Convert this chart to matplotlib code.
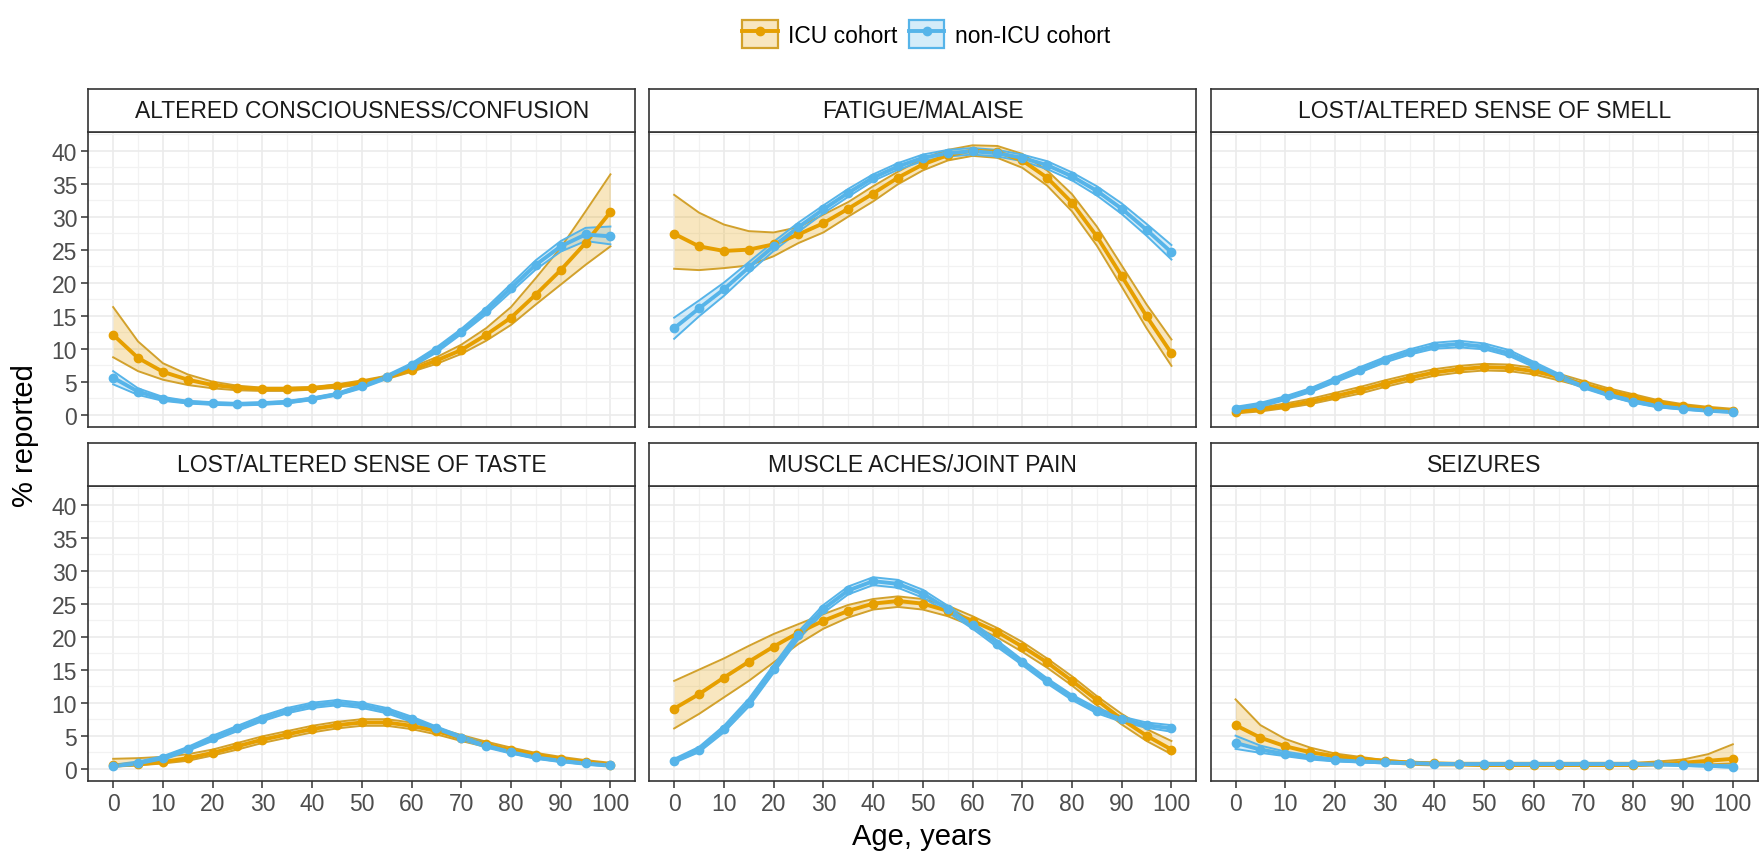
import matplotlib.pyplot as plt
from matplotlib.patches import Patch
from matplotlib.lines import Line2D
from matplotlib.colors import to_rgba

plt.rcParams['font.family'] = ['Liberation Sans', 'DejaVu Sans']

# ages every 5 years
age = list(range(0, 101, 5))

# ALTERED CONSCIOUSNESS/CONFUSION
conf_icu    = [12.1, 8.6, 6.5, 5.3, 4.5, 4.1, 3.9, 3.9, 4.0, 4.4, 4.9, 5.7, 6.8, 8.2, 9.8, 12.1, 14.7, 18.2, 21.9, 26.0, 30.7]
conf_icu_hi = [16.3, 11.1, 7.8, 6.1, 5.0, 4.4, 4.1, 4.1, 4.2, 4.6, 5.2, 5.9, 7.2, 8.7, 10.6, 13.1, 16.3, 20.7, 25.3, 30.8, 36.4]
conf_icu_lo = [8.7, 6.6, 5.3, 4.5, 4.0, 3.7, 3.6, 3.6, 3.8, 4.1, 4.6, 5.4, 6.5, 7.7, 9.2, 11.2, 13.6, 16.7, 19.7, 22.7, 25.5]
conf_non    = [5.6, 3.5, 2.4, 1.9, 1.7, 1.6, 1.7, 1.9, 2.4, 3.1, 4.3, 5.7, 7.5, 9.8, 12.6, 15.7, 19.2, 22.7, 25.5, 27.3, 27.0]
conf_non_hi = [6.6, 4.0, 2.7, 2.1, 1.9, 1.8, 1.9, 2.1, 2.6, 3.3, 4.6, 6.0, 7.8, 10.2, 13.0, 16.2, 19.8, 23.4, 26.3, 28.3, 28.5]
conf_non_lo = [4.6, 3.0, 2.1, 1.7, 1.5, 1.4, 1.5, 1.7, 2.2, 2.9, 4.0, 5.4, 7.2, 9.4, 12.2, 15.2, 18.6, 22.0, 24.7, 26.3, 25.8]

# FATIGUE/MALAISE
fat_icu    = [27.4, 25.5, 24.8, 25.0, 25.8, 27.3, 29.0, 31.2, 33.5, 35.9, 37.9, 39.3, 40.0, 39.8, 38.5, 35.9, 32.1, 27.0, 21.0, 14.9, 9.3]
fat_icu_hi = [33.3, 30.6, 28.8, 27.8, 27.6, 28.4, 30.3, 32.2, 34.6, 36.8, 38.8, 40.1, 40.8, 40.7, 39.5, 37.0, 33.4, 28.5, 22.6, 16.7, 11.4]
fat_icu_lo = [22.1, 21.9, 22.2, 22.6, 24.0, 26.0, 27.6, 30.0, 32.3, 34.9, 37.0, 38.5, 39.2, 38.9, 37.4, 34.7, 30.8, 25.6, 19.4, 13.1, 7.4]
fat_non    = [13.1, 16.1, 19.0, 22.3, 25.5, 28.4, 31.1, 33.6, 35.9, 37.6, 38.9, 39.6, 39.9, 39.6, 38.9, 37.8, 36.1, 33.9, 31.2, 28.0, 24.6]
fat_non_hi = [14.7, 17.3, 20.0, 23.1, 26.2, 29.1, 31.7, 34.2, 36.4, 38.1, 39.4, 40.1, 40.4, 40.1, 39.4, 38.4, 36.7, 34.6, 32.0, 28.9, 25.7]
fat_non_lo = [11.5, 14.9, 18.0, 21.5, 24.8, 27.7, 30.5, 33.0, 35.4, 37.1, 38.4, 39.1, 39.4, 39.1, 38.4, 37.2, 35.5, 33.2, 30.4, 27.1, 23.5]

# LOST/ALTERED SENSE OF SMELL
smell_icu    = [0.4, 0.8, 1.3, 2.0, 2.8, 3.7, 4.7, 5.6, 6.4, 6.9, 7.2, 7.1, 6.6, 5.7, 4.6, 3.6, 2.7, 1.9, 1.3, 0.9, 0.6]
smell_icu_hi = [0.7, 1.1, 1.7, 2.4, 3.3, 4.2, 5.2, 6.1, 6.9, 7.4, 7.7, 7.6, 7.1, 6.2, 5.1, 4.0, 3.1, 2.2, 1.6, 1.2, 0.9]
smell_icu_lo = [0.2, 0.5, 1.0, 1.6, 2.4, 3.2, 4.2, 5.1, 5.9, 6.4, 6.7, 6.6, 6.1, 5.2, 4.2, 3.2, 2.3, 1.6, 1.0, 0.7, 0.4]
smell_non    = [0.9, 1.5, 2.5, 3.7, 5.2, 6.8, 8.3, 9.5, 10.4, 10.7, 10.3, 9.3, 7.6, 5.8, 4.3, 3.0, 2.0, 1.3, 0.9, 0.6, 0.4]
smell_non_hi = [1.2, 1.8, 2.8, 4.0, 5.6, 7.2, 8.7, 9.9, 10.9, 11.2, 10.8, 9.8, 8.0, 6.2, 4.6, 3.3, 2.2, 1.5, 1.1, 0.8, 0.6]
smell_non_lo = [0.7, 1.2, 2.2, 3.4, 4.9, 6.4, 7.9, 9.1, 10.0, 10.2, 9.9, 8.9, 7.2, 5.5, 4.0, 2.8, 1.8, 1.1, 0.8, 0.5, 0.3]

# LOST/ALTERED SENSE OF TASTE
taste_icu    = [0.5, 0.7, 1.0, 1.6, 2.4, 3.4, 4.4, 5.2, 6.0, 6.6, 7.0, 7.0, 6.5, 5.7, 4.6, 3.7, 2.8, 2.1, 1.5, 1.0, 0.6]
taste_icu_hi = [1.5, 1.6, 1.8, 2.2, 2.9, 3.9, 4.9, 5.7, 6.5, 7.1, 7.5, 7.5, 7.0, 6.2, 5.1, 4.1, 3.2, 2.4, 1.8, 1.3, 0.9]
taste_icu_lo = [0.3, 0.5, 0.8, 1.2, 2.0, 2.9, 3.9, 4.7, 5.5, 6.1, 6.5, 6.5, 6.0, 5.2, 4.2, 3.3, 2.5, 1.8, 1.2, 0.8, 0.4]
taste_non    = [0.4, 0.8, 1.6, 3.0, 4.6, 6.1, 7.6, 8.8, 9.6, 10.0, 9.6, 8.8, 7.5, 6.1, 4.7, 3.5, 2.5, 1.7, 1.2, 0.8, 0.5]
taste_non_hi = [0.6, 1.1, 1.9, 3.3, 5.0, 6.5, 8.0, 9.2, 10.0, 10.4, 10.0, 9.2, 7.9, 6.4, 5.0, 3.8, 2.7, 1.9, 1.4, 1.0, 0.7]
taste_non_lo = [0.3, 0.6, 1.3, 2.7, 4.2, 5.7, 7.2, 8.4, 9.2, 9.6, 9.2, 8.4, 7.1, 5.8, 4.4, 3.2, 2.3, 1.5, 1.0, 0.6, 0.3]

# MUSCLE ACHES/JOINT PAIN
mus_icu    = [9.1, 11.3, 13.8, 16.2, 18.5, 20.6, 22.4, 23.9, 25.0, 25.4, 25.0, 23.9, 22.4, 20.7, 18.5, 16.1, 13.3, 10.4, 7.5, 5.0, 2.9]
mus_icu_hi = [13.3, 15.0, 16.7, 18.6, 20.4, 21.9, 23.4, 24.8, 25.7, 26.1, 25.7, 24.7, 23.1, 21.3, 19.2, 16.7, 14.0, 11.0, 8.3, 6.0, 4.2]
mus_icu_lo = [6.1, 8.3, 10.8, 13.3, 16.1, 18.9, 21.2, 22.9, 24.1, 24.5, 24.1, 23.1, 21.6, 19.9, 17.7, 15.3, 12.6, 9.6, 6.7, 4.2, 2.2]
mus_non    = [1.2, 2.9, 6.0, 10.0, 15.1, 20.2, 24.2, 27.0, 28.4, 28.0, 26.5, 24.2, 21.7, 18.9, 16.1, 13.3, 10.8, 8.8, 7.5, 6.6, 6.1]
mus_non_hi = [1.5, 3.3, 6.5, 10.6, 15.7, 20.8, 24.8, 27.6, 29.0, 28.6, 27.1, 24.7, 22.2, 19.4, 16.5, 13.7, 11.2, 9.2, 7.9, 7.0, 6.6]
mus_non_lo = [0.9, 2.5, 5.5, 9.4, 14.5, 19.6, 23.6, 26.4, 27.8, 27.4, 25.9, 23.7, 21.2, 18.4, 15.7, 12.9, 10.4, 8.4, 7.1, 6.2, 5.6]

# SEIZURES
seiz_icu    = [6.6, 4.7, 3.4, 2.5, 1.9, 1.5, 1.2, 0.9, 0.8, 0.7, 0.6, 0.6, 0.6, 0.6, 0.6, 0.6, 0.6, 0.75, 0.9, 1.2, 1.5]
seiz_icu_hi = [10.5, 6.6, 4.5, 3.2, 2.3, 1.8, 1.3, 1.1, 0.9, 0.9, 0.9, 0.9, 0.9, 0.9, 0.9, 0.9, 0.9, 1.1, 1.4, 2.2, 3.7]
seiz_icu_lo = [3.9, 2.9, 2.2, 1.7, 1.3, 1.1, 0.9, 0.6, 0.5, 0.5, 0.4, 0.4, 0.4, 0.4, 0.4, 0.4, 0.4, 0.5, 0.55, 0.65, 0.8]
seiz_non    = [3.9, 2.9, 2.2, 1.7, 1.3, 1.1, 0.95, 0.85, 0.75, 0.7, 0.7, 0.7, 0.7, 0.7, 0.7, 0.7, 0.7, 0.65, 0.55, 0.45, 0.3]
seiz_non_hi = [5.0, 3.5, 2.6, 2.0, 1.5, 1.25, 1.1, 0.95, 0.85, 0.8, 0.8, 0.8, 0.8, 0.8, 0.8, 0.8, 0.8, 0.75, 0.7, 0.6, 0.5]
seiz_non_lo = [3.0, 2.4, 1.9, 1.4, 1.1, 0.95, 0.8, 0.75, 0.65, 0.6, 0.6, 0.6, 0.6, 0.6, 0.6, 0.6, 0.6, 0.55, 0.45, 0.3, 0.15]

titles = ["ALTERED CONSCIOUSNESS/CONFUSION", "FATIGUE/MALAISE", "LOST/ALTERED SENSE OF SMELL",
          "LOST/ALTERED SENSE OF TASTE", "MUSCLE ACHES/JOINT PAIN", "SEIZURES"]
panels = [
    ((conf_icu, conf_icu_lo, conf_icu_hi), (conf_non, conf_non_lo, conf_non_hi)),
    ((fat_icu, fat_icu_lo, fat_icu_hi), (fat_non, fat_non_lo, fat_non_hi)),
    ((smell_icu, smell_icu_lo, smell_icu_hi), (smell_non, smell_non_lo, smell_non_hi)),
    ((taste_icu, taste_icu_lo, taste_icu_hi), (taste_non, taste_non_lo, taste_non_hi)),
    ((mus_icu, mus_icu_lo, mus_icu_hi), (mus_non, mus_non_lo, mus_non_hi)),
    ((seiz_icu, seiz_icu_lo, seiz_icu_hi), (seiz_non, seiz_non_lo, seiz_non_hi)),
]

icu_col, icu_edge = '#E69F00', '#D2A12C'
non_col, non_edge = '#56B4E9', '#56B4E9'
line_w, mark_s, edge_w = 2.8, 6, 1.4

W, H = 1762, 854
fig = plt.figure(figsize=(W / 100, H / 100), dpi=100)

def frac(left, top, w, h):
    return [left / W, 1 - (top + h) / H, w / W, h / H]

col_left = [88.3, 649.3, 1210.7]
row_top = [132.7, 486.7]
pw, ph, sh = 547, 295.3, 42.7
border = '#333333'

for i, (icu, non) in enumerate(panels):
    r, c = i // 3, i % 3
    ax = fig.add_axes(frac(col_left[c], row_top[r], pw, ph))
    sax = fig.add_axes(frac(col_left[c], row_top[r] - sh, pw, sh))

    # ribbons first, then lines, then points (ggplot layer order)
    for (m, lo, hi), col, edge in [(icu, icu_col, icu_edge), (non, non_col, non_edge)]:
        ax.fill_between(age, lo, hi, color=col, alpha=0.25, lw=0, zorder=2)
        ax.plot(age, lo, color=edge, lw=edge_w, zorder=2.5)
        ax.plot(age, hi, color=edge, lw=edge_w, zorder=2.5)
    for (m, lo, hi), col, z in [(icu, icu_col, 3), (non, non_col, 3.1)]:
        ax.plot(age, m, color=col, lw=line_w, zorder=z)
        ax.plot(age, m, color=col, lw=0, marker='o', ms=mark_s, zorder=z + 1)

    ax.set_xlim(-5, 105)
    ax.set_ylim(-1.86, 42.86)
    ax.set_xticks(range(0, 101, 10))
    ax.set_xticks(range(5, 100, 10), minor=True)
    ax.set_yticks(range(0, 41, 5))
    ax.set_yticks([2.5 + 5 * k for k in range(9)], minor=True)
    ax.grid(which='major', color='#EBEBEB', lw=1.2)
    ax.grid(which='minor', color='#F2F2F2', lw=0.9)
    ax.set_axisbelow(True)
    for s in ax.spines.values():
        s.set_color(border)
        s.set_linewidth(1.2)
    ax.tick_params(which='major', length=5, width=1.1, color=border,
                   labelcolor='#4D4D4D', labelsize=16.5, pad=3)
    ax.tick_params(which='minor', length=0)
    if r == 0:
        ax.tick_params(axis='x', length=0, labelbottom=False)
    if c > 0:
        ax.tick_params(axis='y', length=0, labelleft=False)

    # strip
    sax.set_xticks([])
    sax.set_yticks([])
    sax.set_facecolor('white')
    for s in sax.spines.values():
        s.set_color(border)
        s.set_linewidth(1.2)
    sax.text(0.5, 0.5, titles[i], ha='center', va='center', fontsize=16.5,
             color='#1A1A1A', transform=sax.transAxes)

# legend on top
h_icu = (Patch(facecolor=to_rgba(icu_col, 0.25), edgecolor=icu_edge, lw=1.6),
         Line2D([], [], color=icu_col, lw=line_w, marker='o', ms=mark_s))
h_non = (Patch(facecolor=to_rgba(non_col, 0.25), edgecolor=non_edge, lw=1.6),
         Line2D([], [], color=non_col, lw=line_w, marker='o', ms=mark_s))
fig.legend([h_icu, h_non], ['ICU cohort', 'non-ICU cohort'], loc='center',
           bbox_to_anchor=(926 / W, 1 - 35 / H), ncol=2, frameon=False,
           fontsize=16.5, handlelength=1.55, handleheight=1.45,
           handletextpad=0.45, columnspacing=0.5)

fig.text(25 / W, 1 - 436 / H, '% reported', rotation=90, ha='center', va='center', fontsize=21)
fig.text(922 / W, 1 - 837 / H, 'Age, years', ha='center', va='center', fontsize=21)

fig.savefig('out.png', dpi=100)
